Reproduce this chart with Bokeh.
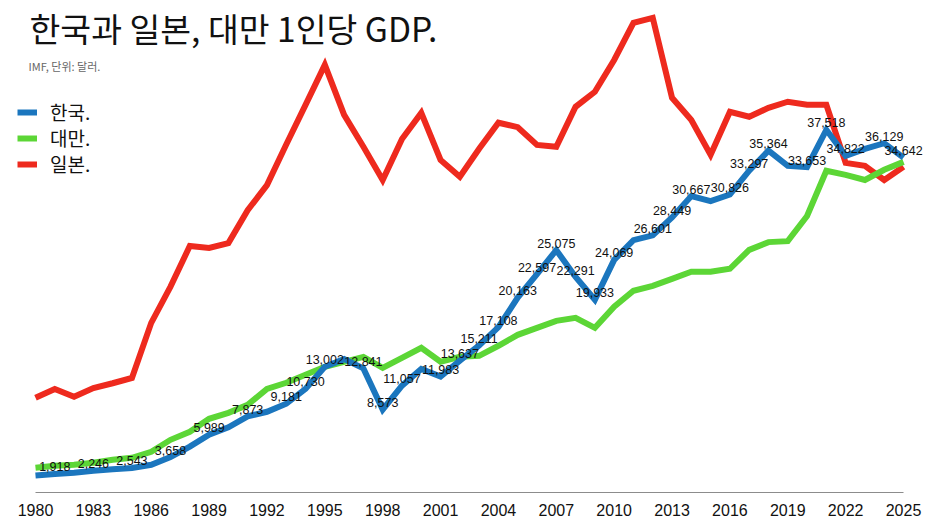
from bokeh.plotting import figure
from bokeh.models import Range1d, FixedTicker, Label, Legend, LegendItem, ColumnDataSource
from bokeh.core.properties import value
from bokeh.embed import file_html
from bokeh.resources import INLINE

years = list(range(1980, 2026))

korea = [1750, 1918, 2050, 2246, 2400, 2543, 2870, 3658, 4750, 5989,
         6750, 7873, 8350, 9181, 10730, 13002, 13800, 12841, 8573, 11057,
         12780, 11983, 13637, 15211, 17108, 20163, 22597, 25075, 22291, 19933,
         24069, 26100, 26601, 28449, 30667, 30150, 30826, 33297, 35364, 33800,
         33653, 37518, 34822, 35540, 36129, 34642]

taiwan = [2550, 2760, 2870, 3070, 3380, 3590, 4210, 5450, 6280, 7620,
          8240, 9070, 10720, 11350, 12180, 13000, 13520, 14030, 12900, 13930,
          14960, 13520, 14040, 14140, 15180, 16310, 17030, 17750, 18070, 17030,
          19210, 20870, 21380, 22100, 22830, 22830, 23140, 25100, 25900, 26000,
          28600, 33280, 32860, 32330, 33380, 34200]

japan = [9800, 10700, 9900, 10800, 11300, 11850, 17550, 21300, 25500, 25300,
         25800, 29200, 31800, 36000, 40100, 44240, 39070, 35760, 32330, 36570,
         39270, 34400, 32660, 35560, 38250, 37790, 35960, 35760, 39900, 41450,
         44740, 48590, 49100, 40830, 38540, 34930, 39380, 38870, 39790, 40420,
         40110, 40110, 34100, 33800, 32330, 33700]

label_years = [1981, 1983, 1985, 1987, 1989, 1991, 1993, 1994, 1995, 1997,
               1998, 1999, 2001, 2002, 2003, 2004, 2005, 2006, 2007, 2008,
               2009, 2010, 2012, 2013, 2014, 2016, 2017, 2018, 2020, 2021,
               2022, 2024, 2025]

tick_years = list(range(1980, 2026, 3))
tick_labels = [str(y) for y in tick_years]

series_names = ["한국.", "대만.", "일본."]
title_text = "한국과 일본, 대만 1인당 GDP."
subtitle_text = "IMF, 단위: 달러."

BLUE = "#1B76BE"
GREEN = "#5CD636"
RED = "#EE2A1E"

p = figure(width=940, height=529, output_backend="svg", toolbar_location=None,
           x_range=Range1d(1978.186, 2026.918), y_range=Range1d(0, 50895),
           min_border_left=0, min_border_right=0, min_border_top=0,
           min_border_bottom=37, y_axis_location=None)
p.outline_line_color = None
p.xgrid.visible = False
p.ygrid.visible = False
p.background_fill_color = "white"
p.border_fill_color = "white"

src = ColumnDataSource(dict(year=years, korea=korea, taiwan=taiwan, japan=japan))
rj = p.line("year", "japan", source=src, line_color=RED, line_width=6, line_join="miter")
rt = p.line("year", "taiwan", source=src, line_color=GREEN, line_width=6, line_join="miter")
rk = p.line("year", "korea", source=src, line_color=BLUE, line_width=6, line_join="miter")

lab_vals = [korea[years.index(y)] for y in label_years]
lab_src = ColumnDataSource(dict(x=label_years, y=lab_vals, t=[f"{v:,}" for v in lab_vals]))
p.text("x", "y", text="t", source=lab_src, text_align="center", text_baseline="middle",
       y_offset=-7, text_font=value("Liberation Sans"), text_font_size=value("12.5px"),
       text_color="#111111")

ax = p.xaxis[0]
ax.ticker = FixedTicker(ticks=tick_years)
ax.major_label_overrides = {y: l for y, l in zip(tick_years, tick_labels)}
ax.bounds = (1980, 2025)
ax.axis_line_color = "#8c8c8c"
ax.axis_line_width = 1.2
ax.major_tick_line_color = None
ax.minor_tick_line_color = None
ax.major_tick_out = 0
ax.major_tick_in = 0
ax.major_label_standoff = 11
ax.major_label_text_font = "Liberation Sans"
ax.major_label_text_font_size = "16px"
ax.major_label_text_color = "#111111"

for name, rend, loc_y in zip(series_names, [rk, rt, rj], [367, 341, 315]):
    lg = Legend(items=[LegendItem(label=name, renderers=[rend])],
                location=(17, loc_y), orientation="vertical",
                glyph_width=20, glyph_height=18, label_height=18, spacing=0,
                label_standoff=13, padding=0, margin=0,
                border_line_color=None, background_fill_alpha=0,
                label_text_font="Noto Sans CJK KR", label_text_font_size="19px",
                label_text_line_height=1.0,
                label_text_color="#111111")
    p.add_layout(lg)

p.add_layout(Label(x=29, y=465, x_units="screen", y_units="screen", text=title_text,
                   text_font="Noto Sans CJK KR", text_font_size="33.5px",
                   text_baseline="middle", text_align="left", text_color="#111111"))
p.add_layout(Label(x=28, y=427, x_units="screen", y_units="screen", text=subtitle_text,
                   text_font="Noto Sans CJK KR", text_font_size="11px",
                   text_baseline="middle", text_align="left", text_color="#666666"))

open("out.html", "w").write(file_html(p, INLINE))
